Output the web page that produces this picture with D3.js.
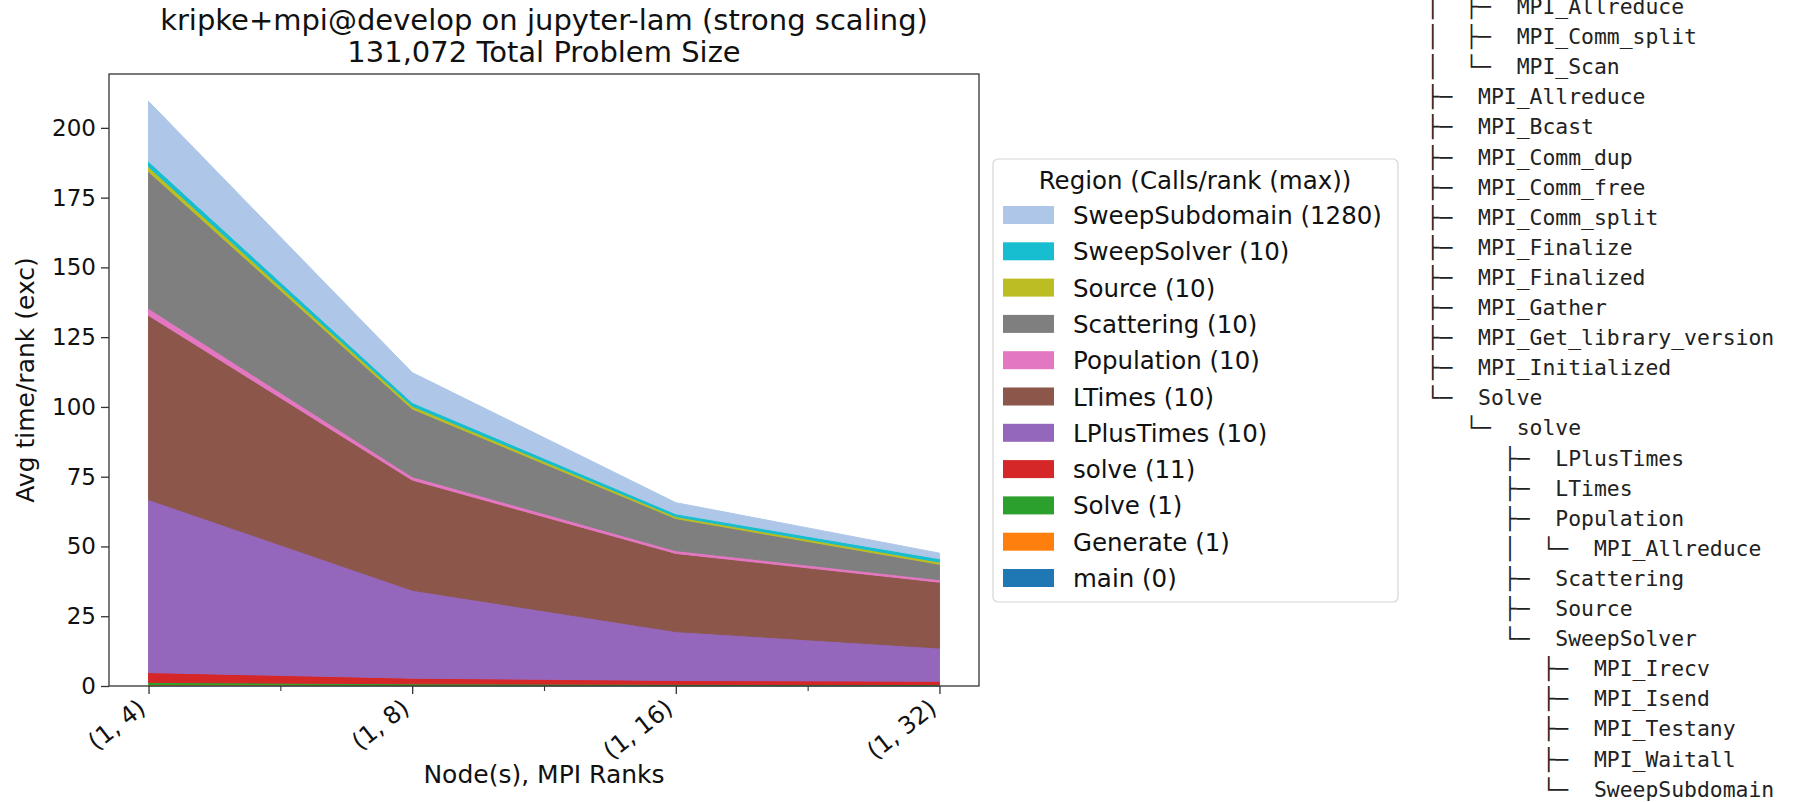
<!DOCTYPE html>
<html>
<head>
<meta charset="utf-8">
<script src="https://cdn.jsdelivr.net/npm/d3@7"></script>
<style>
  body { margin: 0; background: #fff; }
  svg { display: block; }
</style>
</head>
<body>
<svg id="chart"></svg>
<script>
// runs on the x axis (node count, MPI ranks)
const runs = ["(1, 4)", "(1, 8)", "(1, 16)", "(1, 32)"];

// regions, bottom of the stack first
const regions = ["main", "Generate", "Solve", "solve", "LPlusTimes", "LTimes",
                 "Population", "Scattering", "Source", "SweepSolver", "SweepSubdomain"];
const callsPerRank = [0, 1, 1, 11, 10, 10, 10, 10, 10, 10, 1280];
const regionColors = ["#1f77b4", "#ff7f0e", "#2ca02c", "#d62728", "#9467bd", "#8c564b",
                      "#e377c2", "#7f7f7f", "#bcbd22", "#17becf", "#aec7e8"];

// avg time/rank (exc) per region, one value per run
const mainT           = [0.2, 0.1, 0.1, 0.1];
const generateT       = [0.3, 0.2, 0.1, 0.1];
const solveTopT       = [0.8, 0.5, 0.4, 0.3];
const solveT          = [3.5, 2.0, 1.4, 1.2];
const lPlusTimesT     = [62.0, 31.5, 17.5, 11.9];
const lTimesT         = [66.0, 39.5, 28.0, 23.6];
const populationT     = [2.5, 1.2, 1.0, 0.9];
const scatteringT     = [49.0, 24.3, 11.5, 5.5];
const sourceT         = [1.7, 1.0, 0.7, 0.8];
const sweepSolverT    = [2.0, 1.3, 1.0, 1.2];
const sweepSubdomainT = [21.5, 10.7, 4.0, 2.0];

const yTicks = [0, 25, 50, 75, 100, 125, 150, 175, 200];

// call tree printed to the right (depth, name)
const treeDepth = [2, 2, 2, 1, 1, 1, 1, 1, 1, 1, 1, 1, 1, 1, 2, 3, 3, 3, 4, 3, 3, 3, 4, 4, 4, 4, 4];
const treeNames = ["MPI_Allreduce", "MPI_Comm_split", "MPI_Scan", "MPI_Allreduce", "MPI_Bcast",
                   "MPI_Comm_dup", "MPI_Comm_free", "MPI_Comm_split", "MPI_Finalize", "MPI_Finalized",
                   "MPI_Gather", "MPI_Get_library_version", "MPI_Initialized", "Solve", "solve",
                   "LPlusTimes", "LTimes", "Population", "MPI_Allreduce", "Scattering", "Source",
                   "SweepSolver", "MPI_Irecv", "MPI_Isend", "MPI_Testany", "MPI_Waitall", "SweepSubdomain"];

const series = [mainT, generateT, solveTopT, solveT, lPlusTimesT, lTimesT,
                populationT, scatteringT, sourceT, sweepSolverT, sweepSubdomainT];

const W = 1806, H = 802;
const margin = { top: 74, right: 827, bottom: 116, left: 109 };
const font = "'DejaVu Sans', sans-serif";

const svg = d3.select("#chart").attr("width", W).attr("height", H);

// table for d3.stack
const table = runs.map((r, i) => {
    const row = { run: i };
    regions.forEach((k, j) => row[k] = series[j][i]);
    return row;
});
const stacked = d3.stack().keys(regions)(table);

const x = d3.scaleLinear()
    .domain([-0.15, runs.length - 1 + 0.15])
    .range([margin.left, W - margin.right]);
const y = d3.scaleLinear()
    .domain([0, 219.3])
    .range([H - margin.bottom, margin.top]);

const color = d3.scaleOrdinal().domain(regions).range(regionColors);

const area = d3.area()
    .x(d => x(d.data.run))
    .y0(d => y(d[0]))
    .y1(d => y(d[1]));

const plot = svg.append("g");
plot.selectAll("path.layer")
    .data(stacked)
    .enter().append("path")
    .attr("class", "layer")
    .attr("d", area)
    .attr("fill", d => color(d.key))
    .attr("stroke", d => color(d.key))
    .attr("stroke-width", 1);

// y axis
const yAxis = svg.append("g")
    .attr("transform", "translate(" + margin.left + ",0)")
    .call(d3.axisLeft(y).tickValues(yTicks).tickSize(8).tickPadding(5));
yAxis.select(".domain").remove();
yAxis.selectAll("text").style("font-family", font).style("font-size", "23px").attr("fill", "#111");
yAxis.selectAll(".tick line").attr("stroke", "#333").attr("stroke-width", 1.3);

// x axis: labelled ticks at each run, plain ticks halfway between
const xAxis = svg.append("g")
    .attr("transform", "translate(0," + (H - margin.bottom) + ")")
    .call(d3.axisBottom(x).tickValues(d3.range(runs.length)).tickSize(8).tickFormat(i => runs[i]));
xAxis.select(".domain").remove();
xAxis.selectAll(".tick line").attr("stroke", "#333").attr("stroke-width", 1.3);
xAxis.selectAll("text")
    .style("font-family", font).style("font-size", "24px").attr("fill", "#111")
    .attr("text-anchor", "end")
    .attr("x", 0).attr("y", 0).attr("dy", "0.75em")
    .attr("transform", "translate(-13,11) rotate(-38)");

const minorX = svg.append("g")
    .attr("transform", "translate(0," + (H - margin.bottom) + ")")
    .call(d3.axisBottom(x).tickValues(d3.range(0.5, runs.length - 1, 1)).tickSize(5).tickFormat(""));
minorX.select(".domain").remove();
minorX.selectAll(".tick line").attr("stroke", "#333").attr("stroke-width", 1.1);

// frame
svg.append("rect")
    .attr("x", margin.left).attr("y", margin.top)
    .attr("width", W - margin.right - margin.left)
    .attr("height", H - margin.bottom - margin.top)
    .attr("fill", "none").attr("stroke", "#333").attr("stroke-width", 1.3);

// titles
const cx = (margin.left + W - margin.right) / 2;
svg.append("text").attr("x", cx).attr("y", 30)
    .attr("text-anchor", "middle").style("font-family", font).style("font-size", "29px").attr("fill", "#111")
    .text("kripke+mpi@develop on jupyter-lam (strong scaling)");
svg.append("text").attr("x", cx).attr("y", 62)
    .attr("text-anchor", "middle").style("font-family", font).style("font-size", "29px").attr("fill", "#111")
    .text("131,072 Total Problem Size");

svg.append("text").attr("x", cx).attr("y", 783)
    .attr("text-anchor", "middle").style("font-family", font).style("font-size", "25px").attr("fill", "#111")
    .text("Node(s), MPI Ranks");
svg.append("text")
    .attr("transform", "translate(34," + ((margin.top + H - margin.bottom) / 2) + ") rotate(-90)")
    .attr("text-anchor", "middle").style("font-family", font).style("font-size", "25px").attr("fill", "#111")
    .text("Avg time/rank (exc)");

// legend, top region first
const legend = svg.append("g").attr("transform", "translate(993,159)");
legend.append("rect")
    .attr("width", 405).attr("height", 443).attr("rx", 5)
    .attr("fill", "#fff").attr("fill-opacity", 0.8)
    .attr("stroke", "#d6d6d6").attr("stroke-width", 1.2);
legend.append("text")
    .attr("x", 202).attr("y", 30)
    .attr("text-anchor", "middle").style("font-family", font).style("font-size", "24.5px").attr("fill", "#111")
    .text("Region (Calls/rank (max))");

const legendItems = regions.map((k, j) => ({ key: k, label: k + " (" + callsPerRank[j] + ")" })).reverse();
const item = legend.selectAll("g.item")
    .data(legendItems)
    .enter().append("g")
    .attr("class", "item")
    .attr("transform", (d, i) => "translate(0," + (56 + i * 36.3) + ")");
item.append("rect")
    .attr("x", 10).attr("y", -9).attr("width", 51).attr("height", 18)
    .attr("fill", d => color(d.key));
item.append("text")
    .attr("x", 80).attr("y", 9)
    .style("font-family", font).style("font-size", "24.5px").attr("fill", "#111")
    .text(d => d.label);

// call tree text
function treeLine(i) {
    const d = treeDepth[i];
    // is there a later sibling at depth k before the branch closes?
    function hasNext(k) {
        for (let j = i + 1; j < treeDepth.length; j++) {
            if (treeDepth[j] < k) return false;
            if (treeDepth[j] === k) return true;
        }
        return false;
    }
    let s = "";
    for (let k = 1; k < d; k++) s += hasNext(k) ? "\u2502  " : "   ";
    s += (hasNext(d) ? "\u251c\u2500  " : "\u2514\u2500  ") + treeNames[i];
    return s;
}

svg.append("g").selectAll("text")
    .data(treeNames.map((n, i) => treeLine(i)))
    .enter().append("text")
    .attr("x", 1426.5)
    .attr("y", (d, i) => 14 + i * 30.1)
    .style("font-family", "'DejaVu Sans Mono', monospace")
    .style("font-size", "21.4px")
    .style("white-space", "pre")
    .attr("fill", "#222")
    .text(d => d);
</script>
</body>
</html>
